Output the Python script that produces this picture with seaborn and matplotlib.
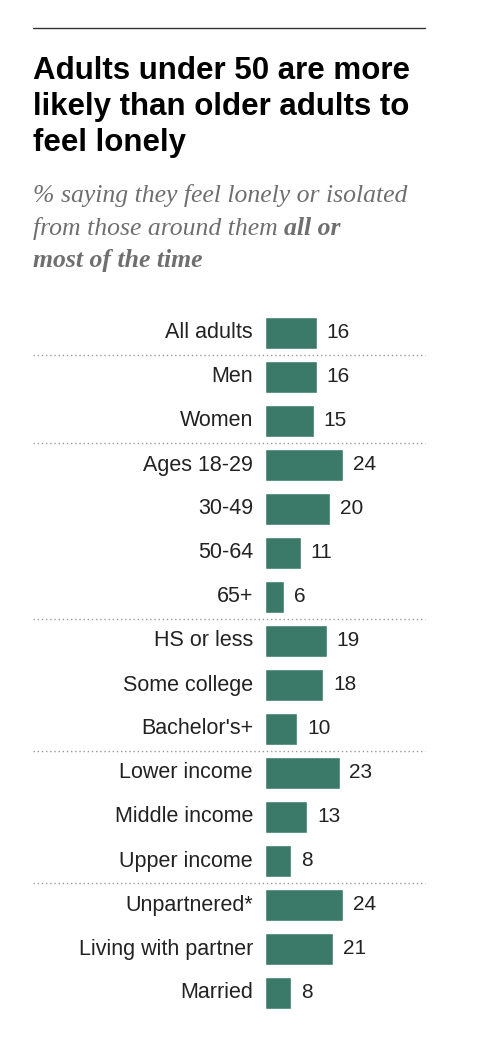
import matplotlib
matplotlib.use("Agg")
import matplotlib.pyplot as plt
import matplotlib.transforms as mtransforms
import seaborn as sns
import pandas as pd

# Data
groups = ["All adults", "Men", "Women", "Ages 18-29", "30-49", "50-64", "65+",
          "HS or less", "Some college", "Bachelor's+",
          "Lower income", "Middle income", "Upper income",
          "Unpartnered*", "Living with partner", "Married"]
values = [16, 16, 15, 24, 20, 11, 6, 19, 18, 10, 23, 13, 8, 24, 21, 8]
separators_after = [0, 2, 6, 9, 12]

df = pd.DataFrame({"group": groups, "value": values})

sns.set_theme(style="white")
plt.rcParams["font.family"] = ["Liberation Sans", "DejaVu Sans"]

W, H = 481, 1042
fig = plt.figure(figsize=(W / 100, H / 100), dpi=100)
ax = fig.add_axes([265 / W, (H - 1015) / H, 160 / W, 704 / H])

sns.barplot(data=df, x="value", y="group", orient="h", color="#3b7a68",
            width=0.73, saturation=1, ax=ax)
ax.set_xlim(0, 160 / 3.25)
ax.set_ylim(len(groups) - 0.5, -0.5)
ax.set_xlabel("")
ax.set_ylabel("")
ax.set_xticks([])
ax.set_yticks([])
for s in ax.spines.values():
    s.set_visible(False)

for i, v in enumerate(values):
    ax.text(v + 3.0, i, str(v), va="center", ha="left", fontsize=15, color="#222222")
    ax.text(-3.7, i, groups[i], va="center", ha="right", fontsize=15.5, color="#222222")

trans = mtransforms.blended_transform_factory(fig.transFigure, ax.transData)
for s in separators_after:
    ax.plot([33 / W, 425 / W], [s + 0.5, s + 0.5], transform=trans, clip_on=False,
            color="#999999", lw=1, linestyle=(0, (1, 2)))

# top rule
fig.add_artist(plt.Line2D([33 / W, 425 / W], [1 - 28 / H, 1 - 28 / H],
                          color="#333333", lw=1))

fig.text(33 / W, 1 - 56 / H,
         "Adults under 50 are more\nlikely than older adults to\nfeel lonely",
         ha="left", va="top", fontsize=22.5, fontweight="bold", color="#000000",
         linespacing=1.25)

sub_kw = dict(ha="left", va="top", fontsize=18.5, style="italic", color="#6f6f6f",
              family=["Liberation Serif", "DejaVu Serif"])
fig.text(33 / W, 1 - 184 / H, "% saying they feel lonely or isolated", **sub_kw)
t = fig.text(33 / W, 1 - 217 / H, "from those around them ", **sub_kw)
fig.canvas.draw()
bb = t.get_window_extent()
fig.text(bb.x1 / W, 1 - 217 / H, "all or", fontweight="bold", **sub_kw)
fig.text(33 / W, 1 - 249 / H, "most of the time", fontweight="bold", **sub_kw)

fig.savefig("out.png", dpi=100)
